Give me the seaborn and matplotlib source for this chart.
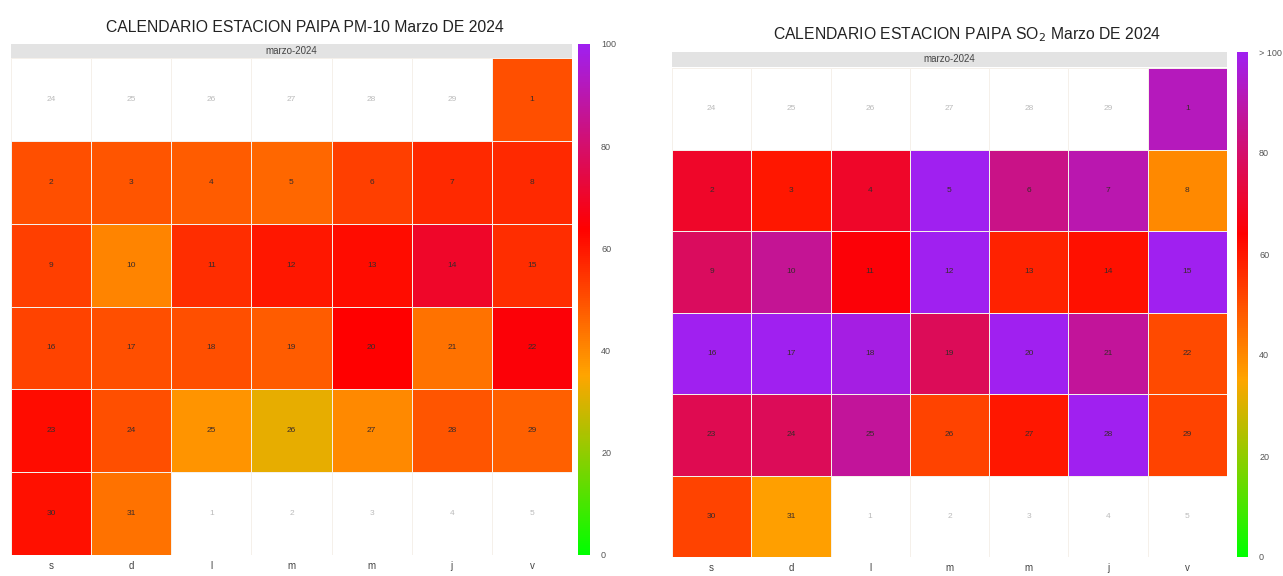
import numpy as np
import pandas as pd
import matplotlib
matplotlib.use("Agg")
import matplotlib.pyplot as plt
import seaborn as sns
from matplotlib.colors import LinearSegmentedColormap, ListedColormap

sns.set_style("white")
plt.rcParams['font.family'] = ['Liberation Sans', 'DejaVu Sans']

# daily means, marzo 2024 (1..31)
pm10 = [50, 50, 49, 48, 46, 53, 57, 57, 53, 41, 56, 60, 62, 70, 56,
        52, 50, 50, 48, 64, 44, 65, 62, 50, 38, 32, 40, 49, 47, 61, 44]
so2 = [92, 70, 60, 70, 105, 84, 90, 40, 78, 86, 65, 104, 58, 61, 103,
       106, 103, 98, 77, 102, 87, 51, 76, 77, 87, 52, 60, 101, 52, 52, 36]
day_labels = ['s', 'd', 'l', 'm', 'm', 'j', 'v']
cbar_ticks = [0, 20, 40, 60, 80, 100]
pm10_tick_labels = ['0', '20', '40', '60', '80', '100']
so2_tick_labels = ['0', '20', '40', '60', '80', '> 100']

cmap = LinearSegmentedColormap.from_list(
    'cal', [(0.0, '#00ff00'), (0.35, '#ffa500'), (0.64, '#ff0000'), (1.0, '#a020f0')])

month_days = pd.date_range('2024-03-01', '2024-03-31')
prev_days = pd.date_range('2024-02-24', '2024-02-29')
next_days = pd.date_range('2024-04-01', '2024-04-05')
start = pd.Timestamp('2024-02-24')  # first saturday shown


def grid_of(dates, values):
    vals = np.full((6, 7), np.nan)
    labs = np.full((6, 7), '', dtype=object)
    for d, v in zip(dates, values):
        k = (d - start).days
        vals[k // 7, k % 7] = v
        labs[k // 7, k % 7] = str(d.day)
    return vals, labs


W, H = 1283, 576


def rect(x0, y0, x1, y1):
    return [x0 / W, 1 - y1 / H, (x1 - x0) / W, (y1 - y0) / H]


fig = plt.figure(figsize=(12.83, 5.76), dpi=100)

panels = [
    dict(values=pm10, ticklabels=pm10_tick_labels,
         title='CALENDARIO ESTACION PAIPA PM-10 Marzo DE 2024',
         cells=(11, 58, 572, 555), strip=(11, 44, 572, 58),
         cbar=(578, 44, 590, 555), title_xy=(305, 28)),
    dict(values=so2, ticklabels=so2_tick_labels,
         title='CALENDARIO ESTACION PAIPA SO$_2$ Marzo DE 2024',
         cells=(672, 68, 1227, 557), strip=(672, 52, 1227, 67),
         cbar=(1237, 52, 1248, 557), title_xy=(967, 35)),
]

for p in panels:
    ax = fig.add_axes(rect(*p['cells']))
    cax = fig.add_axes(rect(*p['cbar']))

    # days outside the month: blank cells with faint numbers
    other = list(prev_days) + list(next_days)
    ov, ol = grid_of(other, [0] * len(other))
    sns.heatmap(pd.DataFrame(ov), ax=ax, cmap=ListedColormap(['white']), cbar=False,
                linewidths=0.7, linecolor='#f2f2f2', annot=ol, fmt='',
                annot_kws={'color': '#bbbbbb', 'fontsize': 6})

    mv, ml = grid_of(month_days, p['values'])
    sns.heatmap(pd.DataFrame(mv), ax=ax, cmap=cmap, vmin=0, vmax=100,
                linewidths=0.7, linecolor='#f5f0ea', annot=ml, fmt='',
                annot_kws={'color': '#3a2a2a', 'fontsize': 6},
                cbar_ax=cax, cbar_kws={'ticks': cbar_ticks})

    ax.set_xticks(np.arange(7) + 0.5)
    ax.set_xticklabels(day_labels, rotation=0, fontsize=7, color='#444444')
    ax.set_yticks([])
    ax.set_xlabel('')
    ax.set_ylabel('')
    ax.tick_params(length=0, pad=4)

    cb = ax.collections[-1].colorbar
    cb.outline.set_visible(False)
    cb.ax.set_yticklabels(p['ticklabels'])
    cb.ax.tick_params(length=0, labelsize=6.5, colors='#555555', pad=8)

    sax = fig.add_axes(rect(*p['strip']))
    sax.set_facecolor('#e3e3e3')
    sax.set_xticks([])
    sax.set_yticks([])
    for s in sax.spines.values():
        s.set_visible(False)
    sax.text(0.5, 0.5, 'marzo-2024', ha='center', va='center', fontsize=7, color='#444444')

    tx, ty = p['title_xy']
    fig.text(tx / W, 1 - ty / H, p['title'], ha='center', va='center',
             fontsize=11.3, color='#222222')

fig.savefig('out.png', dpi=100, facecolor='white')
